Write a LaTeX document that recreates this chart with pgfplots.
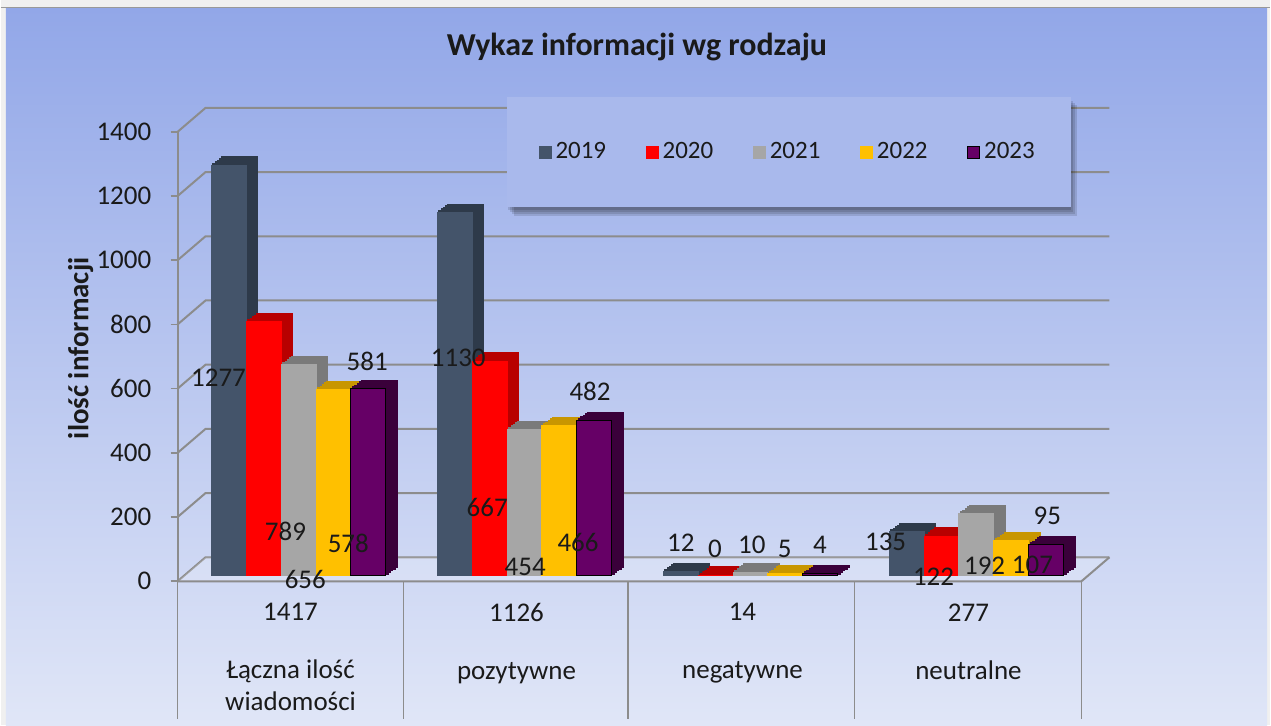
\documentclass[border=0pt]{standalone}
\usepackage{fontspec}
\setmainfont{Carlito}
\usepackage{pgfplots}
\pgfplotsset{compat=1.18}
\pgfdeclarelayer{background}
\pgfsetlayers{background,main}
\definecolor{bgtop}{HTML}{92A7E8}
\definecolor{bgbot}{HTML}{E0E6F7}
\definecolor{gridc}{HTML}{8C8C8C}
\definecolor{cA}{HTML}{44546A}\definecolor{cAs}{HTML}{2E3A4A}
\definecolor{cB}{HTML}{FF0000}\definecolor{cBs}{HTML}{B80000}
\definecolor{cC}{HTML}{A6A6A6}\definecolor{cCs}{HTML}{7A7A7A}
\definecolor{cD}{HTML}{FFC000}\definecolor{cDs}{HTML}{C89600}
\definecolor{cE}{HTML}{660066}\definecolor{cEs}{HTML}{3A003A}
\definecolor{txt}{HTML}{1A1A1A}
\definecolor{legbg}{HTML}{A9B9EC}
\def\bw{0.1547}
\newcommand\lfont{\fontsize{13.5}{16}\selectfont}
\newcommand\barset[5]{%
 \addplot[ybar,bar width=\bw,bar shift=#1,fill=#3,draw=#3,line width=0.9pt,forget plot,xshift=5.5pt,yshift=4pt] coordinates {#5};
 \addplot[ybar,bar width=\bw,bar shift=#1,fill=#3,draw=#3,line width=0.9pt,forget plot,xshift=4.4pt,yshift=3.2pt] coordinates {#5};
 \addplot[ybar,bar width=\bw,bar shift=#1,fill=#3,draw=#3,line width=0.9pt,forget plot,xshift=3.3pt,yshift=2.4pt] coordinates {#5};
 \addplot[ybar,bar width=\bw,bar shift=#1,fill=#3,draw=#3,line width=0.9pt,forget plot,xshift=2.2pt,yshift=1.6pt] coordinates {#5};
 \addplot[ybar,bar width=\bw,bar shift=#1,fill=#3,draw=#3,line width=0.9pt,forget plot,xshift=1.1pt,yshift=0.8pt] coordinates {#5};
 \addplot[ybar,bar width=\bw,bar shift=#1,fill=#2,draw=#4,line width=0.5pt] coordinates {#5};
}
\begin{document}
\begin{tikzpicture}[x=1pt,y=1pt]
\begin{axis}[
  scale only axis, width=452.5pt, height=225pt,
  xmin=-0.5, xmax=3.5, ymin=0, ymax=1400,
  clip=false,
  axis line style={draw=none}, tick style={draw=none},
  xtick={0,1,2,3},
  xticklabels={{1417\\[13pt]Łączna ilość\\wiadomości},{1126\\[13pt]pozytywne},{14\\[13pt]negatywne},{277\\[13pt]neutralne}},
  xticklabel style={anchor=north, align=center, inner sep=0pt, xshift=-4pt, yshift=-14pt, font=\lfont, text=txt},
  ytick={0,200,...,1400},
  yticklabel style={anchor=east, inner sep=0pt, xshift=-17pt, yshift=-3pt, font=\lfont, text=txt, /pgf/number format/1000 sep={}, /pgf/number format/assume math mode=true},
  title={Wykaz informacji wg rodzaju},
  title style={at={(axis description cs:0.4994,1.149)}, anchor=center, font=\fontsize{16}{19}\selectfont\bfseries, text=txt},
  ylabel={ilość informacji},
  ylabel style={at={(axis description cs:-0.116,0.505)}, anchor=center, font=\fontsize{14.5}{17}\selectfont\bfseries, text=txt},
  legend columns=5,
  legend style={at={(axis description cs:0.3547,1.064)}, anchor=north west, fill=legbg, draw=none, inner xsep=16pt, inner ysep=20.5pt, font=\fontsize{12.5}{15}\selectfont, text=txt, /tikz/every even column/.append style={column sep=17.8pt}},
  legend image code/.code={\draw[#1, line width=0.5pt] (0pt,-3pt) rectangle (6pt,3pt);},
]
\barset{-0.3094}{cA}{cAs}{cA}{(0,1277) (1,1130) (2,12) (3,135)}
\barset{-0.1547}{cB}{cBs}{cB}{(0,789) (1,667) (2,0) (3,122)}
\barset{0}{cC}{cCs}{cC}{(0,656) (1,454) (2,10) (3,192)}
\barset{0.1547}{cD}{cDs}{cD}{(0,578) (1,466) (2,5) (3,107)}
\barset{0.3094}{cE}{cEs}{black}{(0,581) (1,482) (2,4) (3,95)}
\legend{2019,2020,2021,2022,2023}
\addplot[only marks, mark=*, mark size=0pt, draw=none, fill=none, forget plot,
  nodes near coords, point meta=explicit symbolic,
  nodes near coords style={anchor=center, inner sep=0pt, font=\lfont, text=txt}]
 coordinates {
 (-0.354,616)[1277] (-0.058,137)[789] (0.030,-12)[656] (0.220,100)[578] (0.304,666)[581]
 (0.707,678)[1130] (0.835,212)[667] (1.003,25)[454] (1.237,103)[466] (1.290,572)[482]
 (1.692,100)[12] (1.843,81)[0] (2.006,96)[10] (2.152,81)[5] (2.307,96)[4]
 (2.598,103)[135] (2.810,-6)[122] (3.036,31)[192] (3.248,31)[107] (3.314,184)[95]
 };
\coordinate (O) at (rel axis cs:0,0);
\end{axis}
\begin{pgfonlayer}{background}
\begin{scope}[shift={(O)}, xshift=-92.5pt, yshift=-75pt]
% background
\fill[gray!12] (0,0) rectangle (635.5,363);
\shade[top color=bgtop, bottom color=bgbot] (2.5,0) rectangle (634,359);
\draw[gray!80, line width=0.8pt] (0,359.3) -- (635.5,359.3);
% walls and grid
\foreach \v in {0,200,...,1400} {
  \pgfmathsetmacro\yb{84+0.1607*\v}
  \pgfmathsetmacro\yf{72+0.1607*\v}
  \draw[gridc, line width=1pt] (88.5,\yf) -- (102.5,\yb) -- (555,\yb);
  \draw[gridc, line width=0.8pt] (85,\yf) -- (88.5,\yf);
}
\fill[white, opacity=0.18] (88.5,72) -- (541,72) -- (555,84) -- (102.5,84) -- cycle;
\draw[gridc, line width=1pt] (88.5,72) -- (541,72) -- (555,84);
\draw[gridc, line width=1pt] (88.5,297) -- (88.5,72);
\foreach \x in {88.5,201.5,314,427.5,541} \draw[gridc, line width=0.6pt] (\x,72) -- (\x,3);
% legend shadow
\foreach \d in {1,2,3,4} \fill[black, opacity=0.12] (253+\d,259-\d) rectangle (535+\d,314.5-\d);
\end{scope}
\end{pgfonlayer}
\end{tikzpicture}
\end{document}
